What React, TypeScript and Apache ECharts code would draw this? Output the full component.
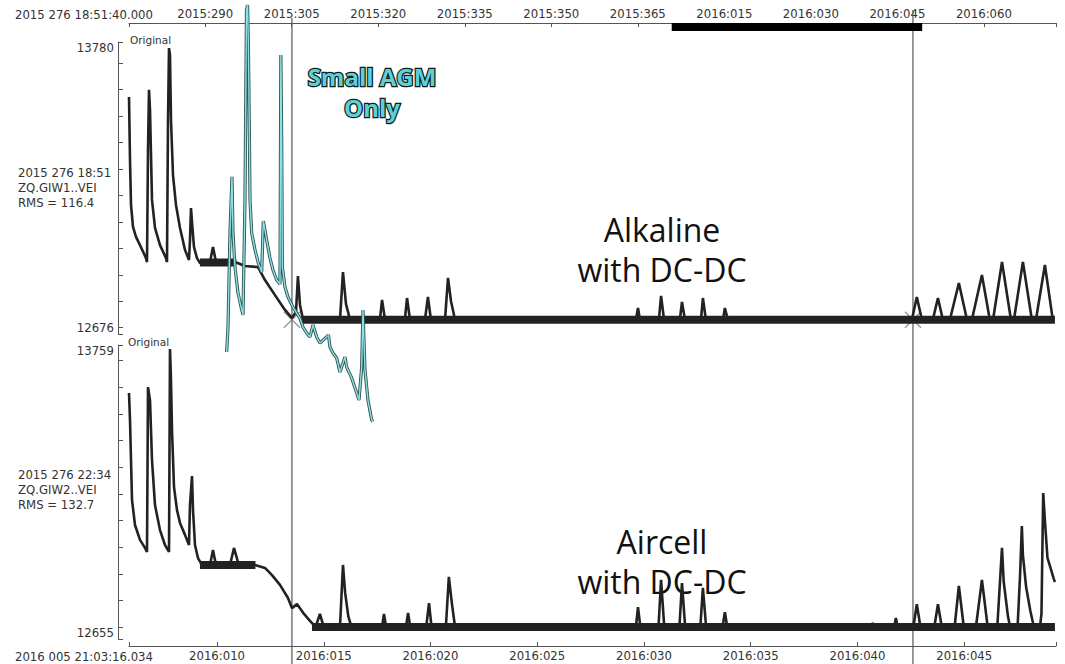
import React, { useEffect, useRef } from "react";
import * as echarts from "echarts";

type Pt = [number, number];

// Time is expressed in day-of-year 2016 (negative values are 2015 days before 2016:000)
const bottomRange = [5.877, 49.3]; // 2016 005 21:03:16.034 -> end of window
const topRange = [-88.214, 72.5]; // 2015 276 18:51:40.000 -> overview end
const bottomLabelDays = [10, 15, 20, 25, 30, 35, 40, 45];
const topLabelDays = [-75, -60, -45, -30, -15, 0, 15, 30, 45, 60];
const overviewWindow: Pt[] = [
  [5.877, 0.5],
  [49.3, 0.5],
];

const upperRange = [12676, 13780];
const lowerRange = [12655, 13759];
const countTicks = [12700, 12800, 12900, 13000, 13100, 13200, 13300, 13400, 13500, 13600, 13700];

const cursorDays = [13.51, 42.6];
const cursorTops = [18, 10];
const crossMarks: Pt[] = [
  [13.51, 12730],
  [42.6, 12730],
];

// Upper trace: ZQ.GIW1..VEI (Alkaline with DC-DC)
const alkalineTrace: Pt[] = [
  [5.877, 13572], [5.924, 13334], [5.971, 13164], [6.064, 13081], [6.205, 13043], [6.392, 13012],
  [6.673, 12963], [6.72, 12948], [6.767, 13372], [6.814, 13599], [6.861, 13523], [6.954, 13183],
  [7.095, 13077], [7.329, 13012], [7.61, 12963], [7.657, 12948], [7.704, 13485], [7.751, 13757],
  [7.797, 13731], [7.844, 13485], [7.938, 13277], [8.078, 13164], [8.266, 13077], [8.5, 12994],
  [8.687, 12956], [8.734, 13031], [8.781, 13152], [8.828, 13099], [8.921, 13005], [9.062, 12963],
  [9.203, 12944], [9.671, 12948], [9.811, 13005], [9.952, 12948], [10.842, 12948], [11.31, 12933],
  [11.919, 12929], [12.247, 12880], [12.715, 12823], [13.184, 12767], [13.511, 12736], [13.7, 12760],
  [13.79, 12895], [13.886, 12786], [14.03, 12730], [15.76, 12730], [15.9, 12910], [16.04, 12790],
  [16.23, 12730], [17.63, 12730], [17.73, 12805], [17.87, 12730], [18.8, 12730], [18.9, 12812],
  [19.04, 12730], [19.74, 12730], [19.88, 12816], [20.02, 12730], [20.68, 12730], [20.82, 12888],
  [20.96, 12800], [21.15, 12730], [29.62, 12730], [29.72, 12774], [29.81, 12730], [30.7, 12730],
  [30.8, 12820], [30.94, 12730], [31.68, 12730], [31.78, 12797], [31.92, 12730], [32.67, 12730],
  [32.76, 12812], [32.9, 12730], [33.7, 12730], [33.79, 12774], [33.93, 12730], [42.55, 12730],
  [42.78, 12816], [43.02, 12730], [43.53, 12730], [43.77, 12812], [44.0, 12730], [44.33, 12730],
  [44.75, 12869], [45.13, 12730], [45.36, 12730], [45.83, 12899], [46.2, 12730], [46.35, 12730],
  [46.77, 12948], [47.19, 12730], [47.33, 12730], [47.75, 12948], [48.17, 12730], [48.36, 12730],
  [48.78, 12937], [49.15, 12730], [49.25, 12730],
];
const alkalineNoise: [number, number, number][] = [
  [9.2, 10.9, 12946],
  [13.95, 49.25, 12730],
];

// Lower trace: ZQ.GIW2..VEI (Aircell with DC-DC)
const aircellTrace: Pt[] = [
  [5.877, 13579], [5.924, 13477], [6.018, 13177], [6.158, 13083], [6.392, 13027], [6.626, 12997],
  [6.72, 12982], [6.767, 13601], [6.861, 13552], [6.954, 13327], [7.095, 13158], [7.329, 13064],
  [7.563, 13008], [7.751, 12982], [7.797, 13744], [7.844, 13628], [7.891, 13440], [7.985, 13226],
  [8.125, 13139], [8.266, 13091], [8.5, 13046], [8.687, 13008], [8.734, 13158], [8.828, 13267],
  [8.875, 13139], [8.968, 13008], [9.109, 12959], [9.296, 12933], [9.671, 12933], [9.811, 12989],
  [9.952, 12933], [10.608, 12933], [10.795, 12997], [10.983, 12944], [11.779, 12933], [12.247, 12922],
  [12.575, 12895], [12.949, 12858], [13.324, 12809], [13.511, 12771], [13.746, 12786], [14.074, 12749],
  [14.355, 12723], [14.62, 12700], [14.82, 12749], [15.0, 12700], [15.76, 12700], [15.9, 12933],
  [16.0, 12830], [16.15, 12740], [16.3, 12700], [17.73, 12700], [17.82, 12749], [17.92, 12700],
  [18.85, 12700], [18.95, 12753], [19.05, 12700], [19.8, 12700], [19.93, 12790], [20.05, 12700],
  [20.72, 12700], [20.86, 12888], [21.0, 12790], [21.15, 12700], [29.62, 12700], [29.72, 12775],
  [29.83, 12700], [30.68, 12700], [30.8, 12877], [30.95, 12700], [31.66, 12700], [31.78, 12865],
  [31.93, 12700], [32.64, 12700], [32.76, 12847], [32.91, 12700], [33.68, 12700], [33.79, 12756],
  [33.9, 12700], [40.65, 12700], [40.72, 12715], [40.8, 12700], [41.72, 12700], [41.8, 12734],
  [41.88, 12700], [42.62, 12700], [42.78, 12786], [42.95, 12700], [43.6, 12700], [43.77, 12786],
  [43.95, 12700], [44.55, 12700], [44.75, 12854], [44.98, 12700], [45.55, 12700], [45.83, 12877],
  [46.1, 12700], [46.55, 12700], [46.77, 12997], [46.85, 12870], [47.05, 12740], [47.15, 12700],
  [47.5, 12700], [47.62, 12900], [47.7, 13079], [47.75, 12970], [47.9, 12850], [48.1, 12760],
  [48.25, 12705], [48.55, 12700], [48.62, 12750], [48.7, 13203], [48.78, 13100], [48.9, 12960],
  [49.05, 12920], [49.2, 12880], [49.25, 12869],
];
const aircellNoise: [number, number, number][] = [
  [9.2, 11.8, 12933],
  [14.45, 49.25, 12700],
];

// Overlay: Small AGM only (plotted on the upper trace's scale)
const smallAgmTrace: Pt[] = [
  [10.453, 12608], [10.514, 12702], [10.608, 13058], [10.7, 13270], [10.748, 13058], [10.842, 12929],
  [10.983, 12831], [11.156, 12767], [11.217, 12748], [11.31, 13183], [11.38, 13900], [11.43, 13920],
  [11.47, 13769], [11.52, 13400], [11.545, 13183], [11.624, 13058], [11.779, 12994], [11.933, 12944],
  [12.093, 12910], [12.168, 13103], [12.2, 13090], [12.327, 13031], [12.481, 12963], [12.622, 12918],
  [12.795, 12880], [12.95, 12865], [12.99, 13731], [13.03, 13400], [13.06, 12929], [13.184, 12854],
  [13.324, 12816], [13.558, 12778], [13.731, 12755], [13.886, 12736], [14.027, 12702], [14.2, 12680],
  [14.355, 12665], [14.495, 12710], [14.668, 12665], [14.823, 12642], [15.137, 12665], [15.22, 12672],
  [15.291, 12627], [15.432, 12604], [15.605, 12585], [15.76, 12532], [15.994, 12589], [16.074, 12551],
  [16.308, 12510], [16.542, 12453], [16.65, 12426], [16.776, 12551], [16.837, 12767], [16.931, 12540],
  [17.071, 12426], [17.245, 12351], [17.306, 12345],
];

const FONT = "DejaVu Sans";
const AXIS = "#555";
const TXT = "#333";
const TRACE = "#222";
const SMALL = 11.7;

const pad3 = (v: number) => String(Math.round(v)).padStart(3, "0");

export default function App() {
  const ref = useRef<HTMLDivElement>(null);

  useEffect(() => {
    if (!ref.current) return;
    const chart = echarts.init(ref.current, undefined, { renderer: "svg" });

    const timeAxisCommon = {
      type: "value",
      splitLine: { show: false },
      axisLine: { show: true, onZero: false, lineStyle: { color: AXIS, width: 1 } },
    };

    const countAxis = (gridIndex: number, range: number[]) => ({
      type: "value",
      gridIndex,
      min: range[0],
      max: range[1],
      position: "left",
      offset: 11,
      splitLine: { show: false },
      axisLine: { show: true, onZero: false, lineStyle: { color: AXIS, width: 1 } },
      axisTick: {
        show: true,
        inside: true,
        length: 5,
        customValues: [range[0], ...countTicks, range[1]],
        lineStyle: { color: AXIS },
      },
      axisLabel: {
        show: true,
        customValues: [range[0], range[1]],
        verticalAlignMinLabel: "bottom",
        verticalAlignMaxLabel: "top",
        margin: 4,
        color: TXT,
        fontFamily: FONT,
        fontSize: SMALL,
        formatter: (v: number) => String(v),
      },
    });

    const noiseSeries = (segs: [number, number, number][], xi: number, yi: number) =>
      segs.map((s) => ({
        type: "line",
        xAxisIndex: xi,
        yAxisIndex: yi,
        data: [
          [s[0], s[2]],
          [s[1], s[2]],
        ],
        symbol: "none",
        lineStyle: { color: TRACE, width: 8, cap: "butt" },
        silent: true,
      }));

    const agmText = (text: string, y: number) => ({
      type: "text",
      x: 372,
      y,
      style: {
        text,
        fill: "#5fd0d6",
        stroke: "#0b1c1c",
        lineWidth: 2.5,
        fontFamily: "Open Sans",
        fontWeight: "bold",
        fontSize: 24,
        align: "center",
        verticalAlign: "middle",
      },
    });

    const option: any = {
      animation: false,
      backgroundColor: "#ffffff",
      textStyle: { fontFamily: FONT },
      grid: [
        { left: 129, right: 9, top: 42, height: 292 },
        { left: 129, right: 9, top: 345, height: 294 },
        { left: 129, right: 9, top: 23, height: 8 },
        { left: 129, right: 9, top: 0, height: 664 },
      ],
      xAxis: [
        { ...timeAxisCommon, gridIndex: 0, min: bottomRange[0], max: bottomRange[1], show: false },
        {
          ...timeAxisCommon,
          gridIndex: 1,
          min: bottomRange[0],
          max: bottomRange[1],
          position: "bottom",
          offset: 7,
          axisTick: {
            show: true,
            inside: true,
            length: 4,
            customValues: [bottomRange[0], ...bottomLabelDays, bottomRange[1]],
            lineStyle: { color: AXIS },
          },
          axisLabel: {
            show: true,
            customValues: bottomLabelDays,
            margin: 4,
            color: TXT,
            fontFamily: FONT,
            fontSize: SMALL,
            formatter: (v: number) => "2016:" + pad3(v),
          },
        },
        {
          ...timeAxisCommon,
          gridIndex: 0,
          min: topRange[0],
          max: topRange[1],
          position: "top",
          offset: 19,
          axisTick: {
            show: true,
            inside: true,
            length: 4,
            customValues: [topRange[0], ...topLabelDays, topRange[1]],
            lineStyle: { color: AXIS },
          },
          axisLabel: {
            show: true,
            customValues: topLabelDays,
            margin: 3,
            color: TXT,
            fontFamily: FONT,
            fontSize: SMALL,
            formatter: (v: number) => (v <= 0 ? "2015:" + pad3(365 + v) : "2016:" + pad3(v)),
          },
        },
        { ...timeAxisCommon, gridIndex: 2, min: topRange[0], max: topRange[1], show: false },
        { ...timeAxisCommon, gridIndex: 3, min: bottomRange[0], max: bottomRange[1], show: false },
      ],
      yAxis: [
        countAxis(0, upperRange),
        countAxis(1, lowerRange),
        { type: "value", gridIndex: 2, min: 0, max: 1, show: false },
        { type: "value", gridIndex: 3, min: 0, max: 1, show: false },
      ],
      series: [
        ...noiseSeries(alkalineNoise, 0, 0),
        {
          type: "line",
          xAxisIndex: 0,
          yAxisIndex: 0,
          data: alkalineTrace,
          symbol: "none",
          lineStyle: { color: TRACE, width: 2.6 },
        },
        ...noiseSeries(aircellNoise, 1, 1),
        {
          type: "line",
          xAxisIndex: 1,
          yAxisIndex: 1,
          data: aircellTrace,
          symbol: "none",
          lineStyle: { color: TRACE, width: 2.6 },
        },
        {
          type: "line",
          xAxisIndex: 0,
          yAxisIndex: 0,
          data: smallAgmTrace,
          symbol: "none",
          clip: false,
          lineStyle: { color: "#2e5656", width: 3.2 },
        },
        {
          type: "line",
          xAxisIndex: 0,
          yAxisIndex: 0,
          data: smallAgmTrace,
          symbol: "none",
          clip: false,
          lineStyle: { color: "#8fe0e2", width: 1.4 },
        },
        {
          type: "scatter",
          xAxisIndex: 0,
          yAxisIndex: 0,
          data: crossMarks,
          symbol: "path://M0 0L10 10M10 0L0 10",
          symbolSize: 16,
          itemStyle: { color: "none", borderColor: "#777", borderWidth: 1.2 },
          silent: true,
        },
        {
          type: "line",
          xAxisIndex: 3,
          yAxisIndex: 2,
          data: overviewWindow,
          symbol: "none",
          lineStyle: { color: "#000", width: 8, cap: "butt" },
        },
        {
          type: "custom",
          xAxisIndex: 4,
          yAxisIndex: 3,
          data: cursorDays.map((d, i) => [d, i]),
          renderItem: (params: any, api: any) => {
            const x = api.coord([api.value(0), 0])[0];
            const top = cursorTops[params.dataIndex];
            return {
              type: "line",
              shape: { x1: x, y1: top, x2: x, y2: 664 },
              style: { stroke: "#555", lineWidth: 1.2 },
            };
          },
          silent: true,
        },
      ],
      graphic: [
        {
          type: "text",
          x: 15,
          y: 15,
          style: { text: "2015 276 18:51:40.000", fill: TXT, fontFamily: FONT, fontSize: SMALL, verticalAlign: "middle" },
        },
        {
          type: "text",
          x: 15,
          y: 657,
          style: { text: "2016 005 21:03:16.034", fill: TXT, fontFamily: FONT, fontSize: SMALL, verticalAlign: "middle" },
        },
        {
          type: "text",
          x: 130,
          y: 40,
          style: { text: "Original", fill: TXT, fontFamily: FONT, fontSize: 10.5, verticalAlign: "middle" },
        },
        {
          type: "text",
          x: 128,
          y: 342,
          style: { text: "Original", fill: TXT, fontFamily: FONT, fontSize: 10.5, verticalAlign: "middle" },
        },
        {
          type: "text",
          x: 18,
          y: 188,
          style: {
            text: "2015 276 18:51\nZQ.GIW1..VEI\nRMS = 116.4",
            fill: TXT,
            fontFamily: FONT,
            fontSize: SMALL,
            lineHeight: 15,
            verticalAlign: "middle",
          },
        },
        {
          type: "text",
          x: 18,
          y: 490,
          style: {
            text: "2015 276 22:34\nZQ.GIW2..VEI\nRMS = 132.7",
            fill: TXT,
            fontFamily: FONT,
            fontSize: SMALL,
            lineHeight: 15,
            verticalAlign: "middle",
          },
        },
        {
          type: "text",
          x: 662,
          y: 249,
          style: {
            text: "Alkaline\nwith DC-DC",
            fill: "#111",
            fontFamily: "Open Sans",
            fontSize: 32,
            lineHeight: 40,
            align: "center",
            verticalAlign: "middle",
          },
        },
        {
          type: "text",
          x: 662,
          y: 561,
          style: {
            text: "Aircell\nwith DC-DC",
            fill: "#111",
            fontFamily: "Open Sans",
            fontSize: 32,
            lineHeight: 40,
            align: "center",
            verticalAlign: "middle",
          },
        },
        agmText("Small AGM", 76),
        agmText("Only", 107),
      ],
    };

    chart.setOption(option);
    return () => chart.dispose();
  }, []);

  return (
    <div
      ref={ref}
      style={{ position: "fixed", left: 0, top: 0, width: 1065, height: 664, background: "#fff" }}
    />
  );
}
